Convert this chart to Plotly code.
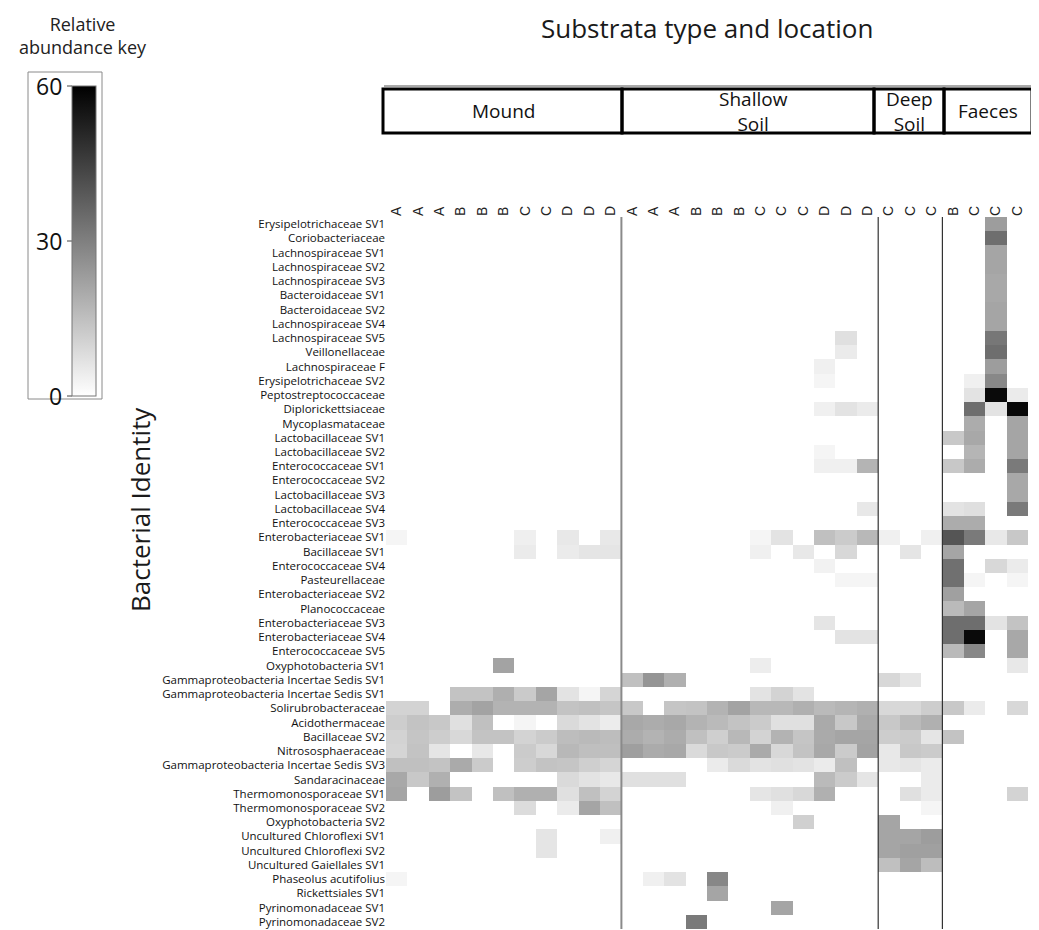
import plotly.graph_objects as go

# ---------------- data ----------------
bacteria = [
    "Erysipelotrichaceae SV1", "Coriobacteriaceae", "Lachnospiraceae SV1", "Lachnospiraceae SV2",
    "Lachnospiraceae SV3", "Bacteroidaceae SV1", "Bacteroidaceae SV2", "Lachnospiraceae SV4",
    "Lachnospiraceae SV5", "Veillonellaceae", "Lachnospiraceae F", "Erysipelotrichaceae SV2",
    "Peptostreptococcaceae", "Diplorickettsiaceae", "Mycoplasmataceae", "Lactobacillaceae SV1",
    "Lactobacillaceae SV2", "Enterococcaceae SV1", "Enterococcaceae SV2", "Lactobacillaceae SV3",
    "Lactobacillaceae SV4", "Enterococcaceae SV3", "Enterobacteriaceae SV1", "Bacillaceae SV1",
    "Enterococcaceae SV4", "Pasteurellaceae", "Enterobacteriaceae SV2", "Planococcaceae",
    "Enterobacteriaceae SV3", "Enterobacteriaceae SV4", "Enterococcaceae SV5", "Oxyphotobacteria SV1",
    "Gammaproteobacteria Incertae Sedis SV1", "Gammaproteobacteria Incertae Sedis SV1",
    "Solirubrobacteraceae", "Acidothermaceae", "Bacillaceae SV2", "Nitrososphaeraceae",
    "Gammaproteobacteria Incertae Sedis SV3", "Sandaracinaceae", "Thermomonosporaceae SV1",
    "Thermomonosporaceae SV2", "Oxyphotobacteria SV2", "Uncultured Chloroflexi SV1",
    "Uncultured Chloroflexi SV2", "Uncultured Gaiellales SV1", "Phaseolus acutifolius",
    "Rickettsiales SV1", "Pyrinomonadaceae SV1", "Pyrinomonadaceae SV2",
]

mound_sites = ["A", "A", "A", "B", "B", "B", "C", "C", "D", "D", "D"]
shallow_sites = ["A", "A", "A", "B", "B", "B", "C", "C", "C", "D", "D", "D"]
deep_sites = ["C", "C", "C"]
faeces_sites = ["B", "C", "C", "C"]

group_names = ["Mound", "Shallow<br>Soil", "Deep<br>Soil", "Faeces"]

# relative abundance (%) per bacterial row index; rows not listed are 0
mound = {
    22: [2.4, 0, 0, 0, 0, 0, 3.8, 0, 5.4, 0, 5.4],
    23: [0, 0, 0, 0, 0, 0, 4.7, 0, 4.7, 6.1, 6.1],
    31: [0, 0, 0, 0, 0, 21.6, 0, 0, 0, 0, 0],
    33: [0, 0, 0, 14.1, 14.1, 18.8, 12.5, 21.2, 6.6, 2.4, 9.9],
    34: [10.4, 10.4, 0, 19.3, 21.6, 17.9, 17.9, 17.9, 14.1, 14.8, 13.6],
    35: [11.8, 14.1, 12.9, 7.3, 14.8, 0, 2.4, 0, 8.7, 6.6, 4.5],
    36: [10.4, 13.6, 11.8, 9.2, 14.1, 14.1, 10.4, 12.2, 15.5, 16.2, 15.5],
    37: [9.9, 14.1, 6.1, 0, 5.4, 0, 12.2, 9.2, 16.7, 15.1, 15.1],
    38: [14.8, 14.8, 14.1, 20.0, 12.2, 0, 11.8, 14.1, 13.6, 11.3, 9.9],
    39: [20.5, 12.9, 18.6, 0, 0, 0, 0, 0, 8.7, 6.6, 5.4],
    40: [21.2, 0, 23.1, 14.1, 0, 14.8, 18.6, 18.6, 7.3, 14.8, 10.4],
    41: [0, 0, 0, 0, 0, 0, 8.2, 0, 4.7, 21.2, 14.8],
    43: [0, 0, 0, 0, 0, 0, 0, 6.1, 0, 0, 3.5],
    44: [0, 0, 0, 0, 0, 0, 0, 6.1, 0, 0, 0],
    46: [2.4, 0, 0, 0, 0, 0, 0, 0, 0, 0, 0],
}

shallow = {
    8: [0, 0, 0, 0, 0, 0, 0, 0, 0, 0, 7.3, 0],
    9: [0, 0, 0, 0, 0, 0, 0, 0, 0, 0, 4.7, 0],
    10: [0, 0, 0, 0, 0, 0, 0, 0, 0, 3.5, 0, 0],
    11: [0, 0, 0, 0, 0, 0, 0, 0, 0, 2.4, 0, 0],
    13: [0, 0, 0, 0, 0, 0, 0, 0, 0, 3.5, 6.6, 4.7],
    16: [0, 0, 0, 0, 0, 0, 0, 0, 0, 2.4, 0, 0],
    17: [0, 0, 0, 0, 0, 0, 0, 0, 0, 3.5, 3.5, 17.6],
    20: [0, 0, 0, 0, 0, 0, 0, 0, 0, 0, 0, 5.4],
    22: [0, 0, 0, 0, 0, 0, 2.4, 6.6, 0, 14.8, 12.2, 16.7],
    23: [0, 0, 0, 0, 0, 0, 3.5, 0, 5.4, 0, 9.2, 0],
    24: [0, 0, 0, 0, 0, 0, 0, 0, 0, 3.0, 0, 0],
    25: [0, 0, 0, 0, 0, 0, 0, 0, 0, 0, 2.4, 2.4],
    28: [0, 0, 0, 0, 0, 0, 0, 0, 0, 6.1, 0, 0],
    29: [0, 0, 0, 0, 0, 0, 0, 0, 0, 0, 6.6, 6.6],
    31: [0, 0, 0, 0, 0, 0, 4.2, 0, 0, 0, 0, 0],
    32: [14.8, 24.9, 18.6, 0, 0, 0, 0, 0, 0, 0, 0, 0],
    33: [0, 0, 0, 0, 0, 0, 6.6, 10.4, 6.6, 0, 0, 0],
    34: [12.9, 0, 13.6, 14.1, 17.9, 21.6, 16.7, 16.7, 18.6, 16.2, 17.4, 18.6],
    35: [20.5, 19.5, 20.5, 17.9, 16.2, 14.1, 12.2, 7.3, 7.3, 20.0, 12.9, 20.0],
    36: [19.5, 17.9, 19.5, 14.8, 11.3, 16.7, 10.4, 17.9, 13.6, 20.0, 21.2, 21.2],
    37: [22.6, 19.8, 20.5, 8.7, 12.9, 12.2, 20.0, 9.2, 14.1, 20.5, 12.2, 21.6],
    38: [0, 0, 0, 0, 4.7, 8.7, 6.6, 7.3, 6.6, 4.7, 14.8, 0],
    39: [7.3, 7.3, 7.3, 0, 0, 0, 0, 0, 0, 16.2, 12.2, 6.1],
    40: [0, 0, 0, 0, 0, 0, 6.1, 7.3, 9.2, 18.6, 0, 0],
    41: [0, 0, 0, 0, 0, 0, 0, 3.5, 0, 0, 0, 0],
    42: [0, 0, 0, 0, 0, 0, 0, 0, 11.1, 0, 0, 0],
    46: [0, 3.5, 6.6, 0, 28.2, 0, 0, 0, 0, 0, 0, 0],
    47: [0, 0, 0, 0, 21.2, 0, 0, 0, 0, 0, 0, 0],
    48: [0, 0, 0, 0, 0, 0, 0, 21.2, 0, 0, 0, 0],
    49: [0, 0, 0, 31.3, 0, 0, 0, 0, 0, 0, 0, 0],
}

deep = {
    22: [3.5, 0, 3.5],
    23: [0, 6.1, 0],
    32: [9.2, 6.1, 0],
    34: [9.2, 9.2, 11.8],
    35: [12.9, 16.2, 18.6],
    36: [11.8, 12.2, 6.1],
    37: [5.4, 12.9, 12.2],
    38: [5.4, 6.1, 4.7],
    39: [0, 0, 4.7],
    40: [0, 7.3, 4.7],
    41: [0, 0, 2.4],
    42: [21.2, 0, 0],
    43: [21.2, 21.2, 23.1],
    44: [21.2, 22.4, 22.4],
    45: [14.8, 21.2, 15.5],
}

faeces = {
    0: [0, 0, 23.1, 0],
    1: [0, 0, 34.1, 0],
    2: [0, 0, 21.2, 0],
    3: [0, 0, 21.2, 0],
    4: [0, 0, 20.5, 0],
    5: [0, 0, 20.5, 0],
    6: [0, 0, 21.2, 0],
    7: [0, 0, 21.2, 0],
    8: [0, 0, 32.0, 0],
    9: [0, 0, 34.1, 0],
    10: [0, 0, 23.1, 0],
    11: [0, 3.5, 28.0, 0],
    12: [0, 6.6, 57.6, 4.7],
    13: [0, 34.1, 6.6, 58.1],
    14: [0, 19.5, 0, 21.2],
    15: [12.9, 20.5, 0, 21.2],
    16: [0, 17.4, 0, 21.2],
    17: [12.9, 19.5, 0, 31.3],
    18: [0, 0, 0, 20.5],
    19: [0, 0, 0, 20.5],
    20: [6.6, 7.5, 0, 31.3],
    21: [19.5, 19.5, 0, 0],
    22: [40.0, 31.3, 5.4, 12.9],
    23: [21.2, 0, 0, 0],
    24: [33.6, 0, 9.2, 4.7],
    25: [33.6, 2.4, 0, 2.4],
    26: [22.4, 0, 0, 0],
    27: [16.2, 21.2, 0, 0],
    28: [34.1, 34.1, 6.6, 14.1],
    29: [34.1, 57.6, 0, 20.5],
    30: [16.2, 28.0, 0, 20.5],
    31: [0, 0, 0, 5.4],
    34: [12.9, 4.7, 0, 9.2],
    36: [14.1, 0, 0, 0],
    40: [0, 0, 0, 10.4],
}

# ---------------- build matrix ----------------
groups = [(mound, mound_sites), (shallow, shallow_sites), (deep, deep_sites), (faeces, faeces_sites)]
sites = mound_sites + shallow_sites + deep_sites + faeces_sites
n_rows, n_cols = len(bacteria), len(sites)

z = []
for r in range(n_rows):
    row = []
    for table, s in groups:
        row += table.get(r, [0] * len(s))
    z.append(row)

# ---------------- figure geometry ----------------
# the page adds an 8px body margin, so the figure is drawn 8px smaller and
# all layout positions below (given in page pixels) are shifted by it.
OFF = 8
W, H = 1039 - OFF, 930 - OFF
ML, MR, MT, MB = 386 - OFF, 11, 217 - OFF, 1
PW, PH = W - ML - MR, H - MT - MB


def px(xp):
    return (xp - OFF - ML) / PW


def py(yp):
    return (H - MB - (yp - OFF)) / PH


FONT = "Open Sans"
CB_TOP, CB_BOT = 86, 396

fig = go.Figure()
fig.add_trace(go.Heatmap(
    z=z, x=list(range(n_cols)), y=list(range(n_rows)),
    zmin=0, zmax=60,
    colorscale=[[0, "#ffffff"], [1, "#000000"]],
    xgap=0, ygap=0,
    colorbar=dict(
        x=px(72), xanchor="left", y=py(CB_TOP), yanchor="top",
        thickness=24, thicknessmode="pixels",
        len=(CB_BOT - CB_TOP), lenmode="pixels",
        outlinewidth=1, outlinecolor="#777777",
        showticklabels=False, ticks="", xpad=0, ypad=0,
    ),
))

# boundaries between substrate groups
sizes = [len(s) for _, s in groups]
bounds = []
acc = 0
for s in sizes[:-1]:
    acc += s
    bounds.append(acc - 0.5)
sep_styles = [("#8a8a8a", 2), ("#333333", 1.2), ("#333333", 1.2)]
shapes = []
for b, (c, w) in zip(bounds, sep_styles):
    shapes.append(dict(type="line", xref="x", yref="y", x0=b, x1=b, y0=-0.5, y1=n_rows - 0.5,
                       line=dict(color=c, width=w), layer="above"))

# header boxes (page pixel layout)
box_edges = [383, 622, 874, 944, 1032]
box_top, box_bot = 89, 133
for i in range(4):
    shapes.append(dict(type="rect", xref="paper", yref="paper",
                       x0=px(box_edges[i]), x1=px(box_edges[i + 1]), y0=py(box_bot), y1=py(box_top),
                       line=dict(color="#000000", width=3)))
shapes.append(dict(type="line", xref="paper", yref="paper", x0=px(384), x1=px(1031),
                   y0=py(86), y1=py(86), line=dict(color="#555555", width=1)))

# legend box and ticks
shapes.append(dict(type="rect", xref="paper", yref="paper", x0=px(28), x1=px(102),
                   y0=py(399), y1=py(72), line=dict(color="#8a8a8a", width=1)))
key_ticks = [60, 30, 0]
key_pos = {60: CB_TOP, 30: (CB_TOP + CB_BOT) / 2, 0: CB_BOT}
for t in key_ticks:
    shapes.append(dict(type="line", xref="paper", yref="paper", x0=px(67), x1=px(72),
                       y0=py(key_pos[t]), y1=py(key_pos[t]), line=dict(color="#444444", width=1)))

annotations = []
for t in key_ticks:
    annotations.append(dict(xref="paper", yref="paper", x=px(64), y=py(key_pos[t]), text=str(t),
                            showarrow=False, xanchor="right", yanchor="middle",
                            font=dict(family=FONT, size=23, color="#111111")))
annotations.append(dict(xref="paper", yref="paper", x=px(83), y=py(35), text="Relative<br>abundance key",
                        showarrow=False, xanchor="center", yanchor="middle",
                        font=dict(family=FONT, size=18, color="#222222")))
annotations.append(dict(xref="paper", yref="paper", x=px(707), y=py(OFF + 0.5), text="Substrata type and location",
                        showarrow=False, xanchor="center", yanchor="top", borderpad=0,
                        font=dict(family=FONT, size=26, color="#1a1a1a")))
annotations.append(dict(xref="paper", yref="paper", x=px(140), y=py(510), text="Bacterial Identity",
                        showarrow=False, xanchor="center", yanchor="middle", textangle=-90,
                        font=dict(family=FONT, size=26, color="#1a1a1a")))

# group labels in header boxes
label_pos = [503, 753, 909, 988]
for name, cx in zip(group_names, label_pos):
    annotations.append(dict(xref="paper", yref="paper", x=px(cx), y=py(111), text=name,
                            showarrow=False, xanchor="center", yanchor="middle",
                            font=dict(family=FONT, size=19, color="#111111")))

fig.update_layout(
    width=W, height=H,
    margin=dict(l=ML, r=MR, t=MT, b=MB, pad=0, autoexpand=False),
    paper_bgcolor="white", plot_bgcolor="white",
    shapes=shapes, annotations=annotations,
    xaxis=dict(side="top", tickmode="array", tickvals=list(range(n_cols)), ticktext=sites,
               tickangle=-90, ticks="", showgrid=False, zeroline=False, showline=False,
               range=[-0.5, n_cols - 0.5], tickfont=dict(family="Liberation Sans", size=14, color="#222222")),
    yaxis=dict(tickmode="array", tickvals=list(range(n_rows)), ticktext=bacteria,
               ticks="", showgrid=False, zeroline=False, showline=False,
               range=[n_rows - 0.5, -0.5], tickfont=dict(family=FONT, size=11.5, color="#111111")),
)

fig.write_html("out.html")
